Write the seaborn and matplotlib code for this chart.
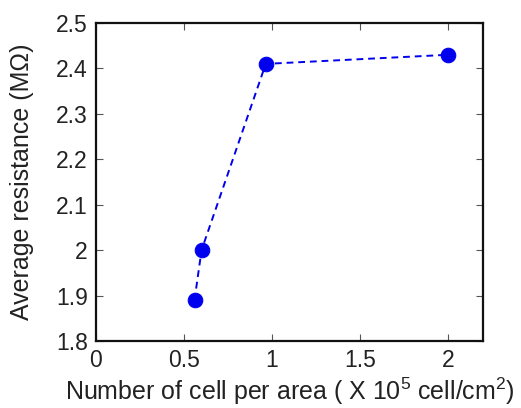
import matplotlib
matplotlib.use('Agg')
import matplotlib.pyplot as plt
import seaborn as sns
import pandas as pd

# cell density (x 10^5 cell/cm^2) and average resistance (MOhm)
cell_density = [0.56, 0.60, 0.965, 2.0]
resistance = [1.89, 2.00, 2.41, 2.43]

x_ticks = [0, 0.5, 1, 1.5, 2]
x_tick_labels = ['0', '0.5', '1', '1.5', '2']
y_ticks = [1.8, 1.9, 2.0, 2.1, 2.2, 2.3, 2.4, 2.5]
y_tick_labels = ['1.8', '1.9', '2', '2.1', '2.2', '2.3', '2.4', '2.5']

df = pd.DataFrame({'density': cell_density, 'resistance': resistance})

sns.set_style('ticks')
plt.rcParams['font.family'] = ['Liberation Sans', 'DejaVu Sans']
plt.rcParams['mathtext.fontset'] = 'custom'
plt.rcParams['mathtext.rm'] = 'Liberation Sans'
plt.rcParams['mathtext.it'] = 'Liberation Sans'

fig = plt.figure(figsize=(5.21, 4.08), dpi=100)
ax = fig.add_axes([96 / 521, 1 - 341 / 408, (483 - 96) / 521, (341 - 23) / 408])

sns.lineplot(data=df, x='density', y='resistance', ax=ax, color='#0000ee',
             linestyle=(0, (3.5, 2.5)), linewidth=1.4, marker='o', markersize=10.5,
             markeredgecolor='#0000ee', sort=False)

ax.set_xlim(0, 2.2)
ax.set_ylim(1.8, 2.5)
ax.set_xticks(x_ticks)
ax.set_xticklabels(x_tick_labels)
ax.set_yticks(y_ticks)
ax.set_yticklabels(y_tick_labels)
ax.tick_params(direction='in', top=True, right=True, length=5, width=0.8,
               labelsize=16.5, colors='#555555', labelcolor='#222222', pad=6)
for s in ax.spines.values():
    s.set_linewidth(1.6)
    s.set_color('#111111')

ax.set_xlabel('Number of cell per area ( X 10$\\mathrm{^5}$ cell/cm$\\mathrm{^2}$)',
              fontsize=18, color='#222222', labelpad=2)
ax.set_ylabel('Average resistance (M\u03a9)', fontsize=18, color='#222222', labelpad=16)

fig.savefig('out.png', dpi=100)
